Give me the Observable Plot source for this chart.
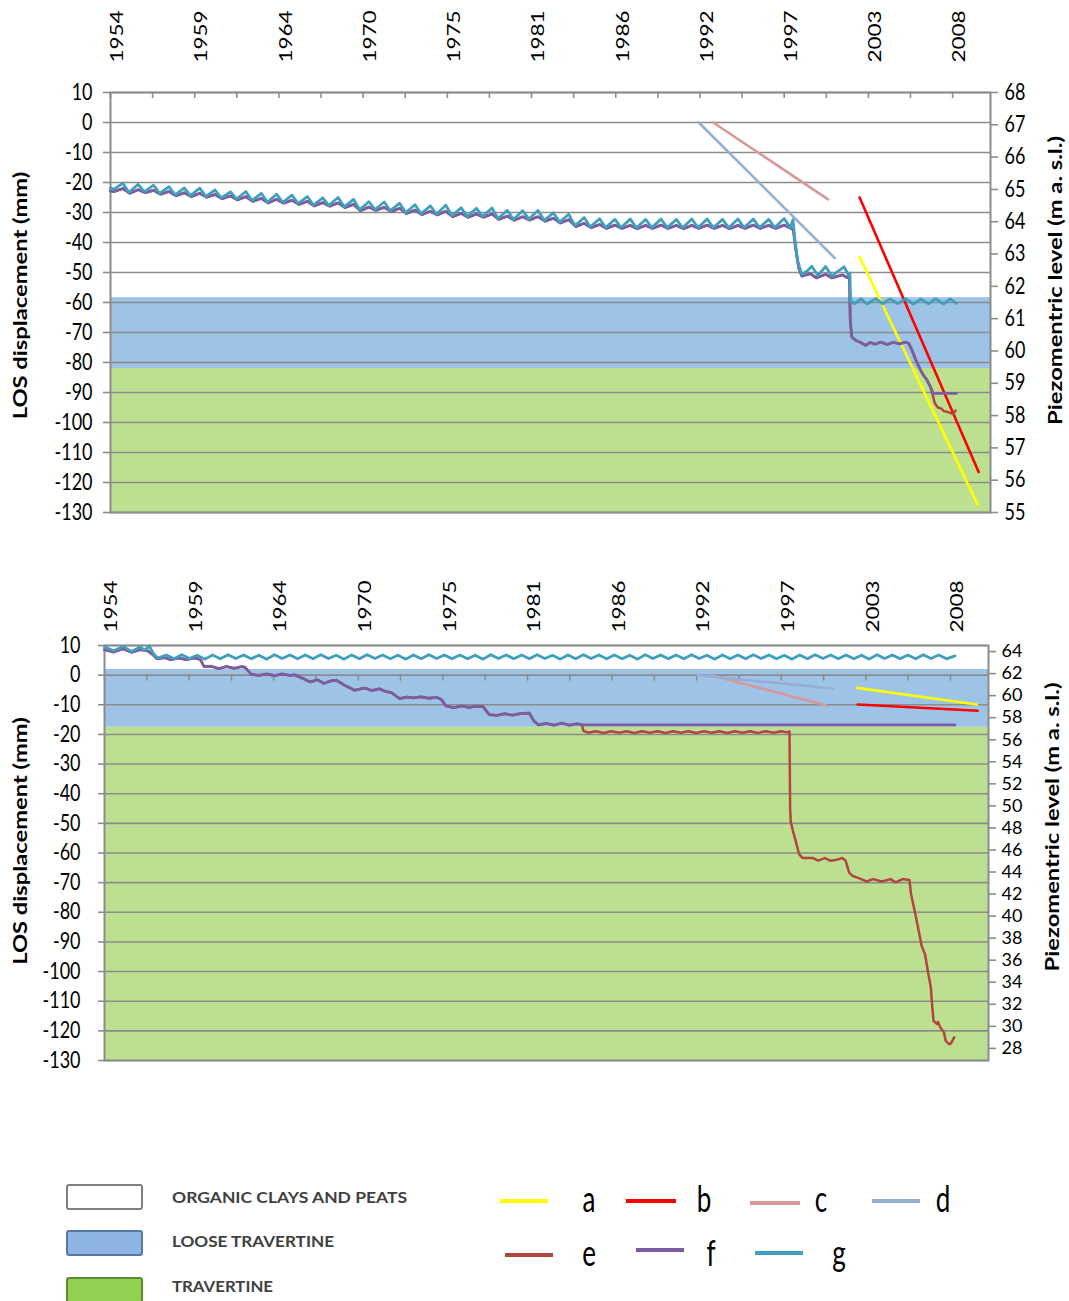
<!DOCTYPE html>
<html><head><meta charset="utf-8">
<script src="https://cdn.jsdelivr.net/npm/d3@7"></script>
<script src="https://cdn.jsdelivr.net/npm/@observablehq/plot@0.6"></script>
<style>
html,body{margin:0;padding:0;background:#fff;}
#wrap{position:relative;width:1069px;height:1301px;overflow:hidden;}
#wrap > svg{position:absolute;left:0;}
</style></head><body><div id="wrap"></div>
<script>
// ---------------- DATA ----------------
const X0 = 1954, X1 = 2011.22;             // time axis (decimal years)
const yearLabels = ["1954","1959","1964","1970","1975","1981","1986","1992","1997","2003","2008"];
const leftTicks = [10,0,-10,-20,-30,-40,-50,-60,-70,-80,-90,-100,-110,-120,-130];
const rightTicksTop = [55,56,57,58,59,60,61,62,63,64,65,66,67,68];
const rightTicksBot = [28,30,32,34,36,38,40,42,44,46,48,50,52,54,56,58,60,62,64];
const rightDomainTop = [55, 68];
const rightDomainBot = [26.9, 64.55];

// lithology bands (mm)
const bandsTop = [{layer:"loose", top:-58.4, bottom:-82}, {layer:"travertine", top:-82, bottom:-130}];
const bandsBot = [{layer:"loose", top:1.9, bottom:-17.6}, {layer:"travertine", top:-17.6, bottom:-130}];

// straight trend series a-d  [year, mm]
const aTop = [[2002.71,-44.8],[2010.38,-127.3]];
const bTop = [[2002.71,-25.0],[2010.45,-116.5]];
const cTop = [[1993.19,0],[2000.66,-25.6]];
const dTop = [[1992.25,0],[2001.10,-45.2]];
const aBot = [[2002.71,-4.3],[2010.46,-9.9]];
const bBot = [[2002.75,-9.9],[2010.52,-12.0]];
const cBot = [[1993.27,0],[2000.71,-10.2]];
const dBot = [[1992.38,0],[2001.15,-4.5]];

// ---- top chart, series g (annual trough / peak 1954..1997) ----
const gTopHead = [[1954.0,-21.7]];
const gTopTrough = [-22.3,-23.3,-23.1,-23.6,-24.1,-24.4,-24.6,-25.1,-25.5,-26.0,
  -26.5,-26.6,-27.0,-27.5,-27.6,-28.1,-29.1,-29.0,-29.4,-30.0,
  -30.4,-30.5,-31.1,-31.3,-31.3,-32.0,-32.3,-32.2,-32.6,-33.2,
  -34.4,-34.8,-35.0,-35.0,-35.1,-35.0,-35.0,-35.1,-35.0,-35.0,
  -35.1,-35.0,-35.0,-35.0];
const gTopPeak = [-20.3,-20.6,-20.9,-21.4,-21.8,-21.9,-22.5,-23.1,-23.0,-23.6,
  -23.9,-24.2,-24.7,-25.1,-25.0,-25.6,-26.4,-26.5,-26.9,-27.4,
  -27.8,-27.6,-28.4,-28.6,-28.5,-29.3,-29.4,-29.3,-30.1,-30.6,
  -31.7,-32.1,-32.3,-32.2,-32.3,-32.2,-32.3,-32.2,-32.2,-32.3,
  -32.2,-32.2,-32.3,-32.0];
const gTopTail = [[1998.2,-35.0],[1998.38,-32.4],[1998.5,-39],[1998.7,-46.5],[1998.95,-50.6],
  [1999.3,-49.5],[1999.6,-47.9],[2000.0,-51.0],[2000.5,-48.0],[2000.9,-51.2],[2001.3,-49.6],
  [2001.7,-48.1],[2002.0,-51.0],[2002.08,-50.2],[2002.12,-59.5],[2002.4,-60.4],[2002.8,-58.8],
  [2003.2,-60.5],[2003.75,-58.7],[2004.2,-60.4],[2004.7,-58.8],[2005.2,-60.4],[2005.7,-58.7],
  [2006.2,-60.5],[2006.7,-58.8],[2007.2,-60.4],[2007.65,-58.7],[2008.15,-60.5],[2008.6,-58.8],[2009.0,-60.3]];

// ---- top chart, series f ----
const fTopHead = [[1954.0,-22.8]];
const fTopLow = [-23.0,-23.6,-23.4,-23.9,-24.4,-24.7,-24.9,-25.4,-25.8,-26.3,
  -26.8,-26.9,-27.3,-27.8,-27.9,-28.4,-29.4,-29.3,-29.7,-30.3,
  -30.7,-30.8,-31.4,-31.6,-31.6,-32.3,-32.6,-32.5,-32.9,-33.5,
  -34.7,-35.1,-35.3,-35.3,-35.4,-35.3,-35.3,-35.4,-35.3,-35.3,
  -35.4,-35.3,-35.3,-35.3];
const fTopHigh = [-22.0,-22.4,-22.6,-23.0,-23.4,-23.6,-24.0,-24.5,-24.7,-25.3,
  -25.6,-25.9,-26.3,-26.7,-26.8,-27.3,-28.2,-28.3,-28.6,-29.2,
  -29.6,-29.6,-30.3,-30.5,-30.5,-31.2,-31.4,-31.4,-31.9,-32.4,
  -33.6,-34.0,-34.2,-34.3,-34.3,-34.2,-34.3,-34.3,-34.2,-34.3,
  -34.3,-34.2,-34.3,-34.2];
const fTopTail = [[1998.25,-35.3],[1998.4,-35.8],[1998.55,-42],[1998.75,-48.5],[1998.95,-51.2],
  [1999.5,-50.4],[1999.9,-51.8],[2000.5,-50.6],[2000.9,-51.8],[2001.6,-50.8],[2001.9,-51.7],
  [2002.05,-51.2],[2002.1,-66],[2002.2,-71.5],[2002.45,-72.6],[2002.8,-73.4],[2003.1,-74.3],
  [2003.4,-73.3],[2003.7,-73.9],[2004.1,-73.2],[2004.5,-74.0],[2004.9,-73.3],[2005.3,-73.8],
  [2005.7,-73.2],[2005.9,-73.6],[2006.1,-75.7],[2006.35,-79],[2006.6,-81.8],[2006.85,-84.2],
  [2007.05,-85.5],[2007.3,-88],[2007.5,-90.3],[2009.0,-90.3]];
// ---- top chart, series e (diverges from f at the end) ----
const eTopTail = [[2007.3,-88],[2007.45,-90.5],[2007.6,-93.6],[2007.8,-95.0],[2008.0,-95.3],
  [2008.2,-96.2],[2008.5,-96.6],[2008.8,-97.2],[2008.95,-96.0]];

// ---- bottom chart, series g ----
const gBotHead = [[1954.0,9.6],[1954.6,8.2],[1955.2,9.7],[1955.75,8.0],[1956.3,9.5],[1956.6,8.4],
  [1956.9,9.8],[1957.2,7.0],[1957.45,5.8]];
const gBotPeak = [6.8,6.9,6.7,6.8,6.9,6.8,6.7,6.9,6.8,6.8, 6.9,6.7,6.8,6.9,6.8,6.7,6.8,6.9,6.8,6.8,
  6.7,6.9,6.8,6.8,6.9,6.7,6.8,6.9,6.8,6.8, 6.7,6.9,6.8,6.8,6.9,6.7,6.8,6.8,6.9,6.8,
  6.7,6.8,6.9,6.8,6.8,6.7,6.9,6.8,6.8,6.9, 6.8];
const gBotTrough = [5.5,5.6,5.4,5.5,5.6,5.5,5.4,5.6,5.5,5.5, 5.6,5.4,5.5,5.6,5.5,5.4,5.5,5.6,5.5,5.5,
  5.4,5.6,5.5,5.5,5.6,5.4,5.5,5.6,5.5,5.5, 5.4,5.6,5.5,5.5,5.6,5.4,5.5,5.5,5.6,5.5,
  5.4,5.5,5.6,5.5,5.5,5.4,5.6,5.5,5.5,5.6, 5.5];
const gBotEnd = [[2009.05,6.5]];

// ---- bottom chart, series f ----
const fBot = [[1954.0,8.6],[1954.6,7.8],[1955.2,8.9],[1955.75,7.7],[1956.3,8.6],[1956.8,8.2],[1957.15,6.8],
  [1957.4,5.5],[1957.9,5.9],[1958.3,5.2],[1958.8,5.8],[1959.3,5.2],[1959.8,5.8],[1960.2,5.3],[1960.45,2.9],
  [1960.9,3.0],[1961.4,2.2],[1961.9,2.9],[1962.4,2.3],[1962.9,2.9],[1963.1,2.6],[1963.5,0.3],[1964.0,-0.1],
  [1964.5,0.4],[1965.0,-0.2],[1965.5,0.4],[1966.0,-0.1],[1966.3,0.1],[1966.8,-1.0],[1967.3,-2.3],[1967.8,-1.6],
  [1968.2,-2.8],[1968.6,-2.0],[1969.0,-1.7],[1969.5,-3.3],[1970.2,-5.1],[1970.6,-4.6],[1970.9,-4.4],[1971.3,-5.2],
  [1971.8,-4.6],[1972.1,-5.3],[1972.6,-6.0],[1973.1,-7.9],[1973.6,-7.4],[1974.0,-7.7],[1974.5,-7.3],[1975.0,-7.8],
  [1975.5,-7.5],[1975.8,-8.2],[1976.1,-10.4],[1976.6,-11.0],[1977.1,-10.4],[1977.6,-10.9],[1978.0,-10.5],
  [1978.5,-10.6],[1978.9,-13.3],[1979.4,-13.6],[1979.9,-13.0],[1980.4,-13.5],[1980.9,-13.0],[1981.5,-12.8],
  [1981.8,-15.5],[1982.1,-16.8],[1982.6,-16.3],[1983.1,-16.9],[1983.6,-16.2],[1984.1,-16.9],[1984.6,-16.4],
  [1984.9,-16.8],[2009.05,-16.8]];
// ---- bottom chart, series e (diverges from f in 1985) ----
const eBotTail = [[1984.9,-16.8],[1985.0,-18.8],[1985.3,-19.4],[1985.8,-18.9],[1986.3,-19.5],[1986.8,-18.9],
  [1987.3,-19.4],[1987.8,-18.9],[1988.3,-19.5],[1988.8,-18.9],[1989.3,-19.4],[1989.8,-18.9],[1990.3,-19.5],
  [1990.8,-18.9],[1991.3,-19.4],[1991.8,-18.9],[1992.3,-19.5],[1992.8,-18.9],[1993.3,-19.4],[1993.8,-18.9],
  [1994.3,-19.5],[1994.8,-18.9],[1995.3,-19.4],[1995.8,-18.9],[1996.3,-19.5],[1996.8,-18.9],[1997.3,-19.4],
  [1997.8,-18.9],[1998.2,-19.3],[1998.34,-19.0],[1998.38,-45],[1998.42,-49.5],[1998.56,-52.5],[1998.74,-55.9],
  [1998.96,-60.4],[1999.18,-61.7],[1999.86,-61.7],[2000.19,-62.6],[2000.63,-61.7],[2000.97,-62.6],[2001.31,-62.4],
  [2001.75,-61.7],[2001.97,-62.6],[2002.2,-66.6],[2002.42,-67.7],[2002.98,-68.8],[2003.31,-69.6],[2003.76,-68.8],
  [2004.32,-69.6],[2004.87,-68.8],[2005.21,-69.9],[2005.66,-68.8],[2006.1,-69.1],[2006.21,-73.9],[2006.44,-79.5],
  [2006.66,-85.1],[2006.89,-91.3],[2007.11,-94.1],[2007.33,-100.9],[2007.49,-105.4],[2007.55,-109.9],
  [2007.66,-116.6],[2007.89,-117.7],[2007.95,-117.0],[2008.11,-118.9],[2008.34,-120.6],[2008.45,-123.4],
  [2008.67,-124.5],[2008.78,-124.3],[2009.0,-122.2]];

const legendLayers = ["ORGANIC CLAYS AND PEATS","LOOSE TRAVERTINE","TRAVERTINE"];
const legendSeries = ["a","b","c","d","e","f","g"];

// ---------------- STYLE ----------------
const colors = {a:"#ffff00", b:"#ff0000", c:"#d9989a", d:"#94aed6", e:"#b2463f", f:"#7b5ea0", g:"#409fbd"};
const widths = {a:2.6, b:2.6, c:2.6, d:2.6, e:2.5, f:2.8, g:2.8};
const bandFill = {loose:"#9dc3e6", travertine:"#bde090"};
const GRID = "#8c8c8c";
const FONT = "Lato, 'Open Sans', sans-serif";

// ---------------- HELPERS ----------------
const xTicks = d3.range(21).map(k => X0 + k * 1000 / 365.25);
const yearTicks = yearLabels.map((label, i) => ({label, t: xTicks[2 * i]}));
function osc(y0, lows, highs, lowOff, highOff) {
  const pts = [];
  lows.forEach((v, i) => pts.push([y0 + i + lowOff, v]));
  highs.forEach((v, i) => pts.push([y0 + i + highOff, v]));
  return pts.sort((p, q) => p[0] - q[0]);
}
const gTop = [...gTopHead, ...osc(1954, gTopTrough, gTopPeak, 0.2, 0.8), ...gTopTail];
const fTop = [...fTopHead, ...osc(1954, fTopLow, fTopHigh, 0.25, 0.8), ...fTopTail];
const eTop = [...fTop.filter(p => p[0] < 2007.3), ...eTopTail];
const gBot = [...gBotHead, ...osc(1958, gBotTrough, gBotPeak, 0.5, 0.0), ...gBotEnd];
const eBot = [...fBot.filter(p => p[0] < 1984.9), ...eBotTail];

// stretch text glyphs vertically (on screen), as in the reference picture
function stretch(root, k, skipRightOf) {
  root.querySelectorAll("text").forEach(t => {
    let tr = t.getAttribute("transform") || "";
    const m = /rotate\((-?[\d.]+)\)/.exec(tr);
    const vertical = m && Math.abs(Math.abs(+m[1]) - 90) < 1;
    if (!vertical && skipRightOf != null && t.getBoundingClientRect().left > skipRightOf) return;
    let tx = 0, ty = 0;
    const xa = t.getAttribute("x"), ya = t.getAttribute("y");
    if (xa != null && /^-?[\d.]+$/.test(xa.trim())) { tx = +xa; t.removeAttribute("x"); }
    if (ya != null && /^-?[\d.]+$/.test(ya.trim())) { ty = +ya; t.removeAttribute("y"); }
    if (tx || ty) tr += ` translate(${tx},${ty})`;
    tr += vertical ? ` scale(${k},1)` : ` scale(1,${k})`;
    t.setAttribute("transform", tr.trim());
  });
}

function chart(cfg) {
  const toLeft = m => -130 + (m - cfg.rightDomain[0]) * 140 / (cfg.rightDomain[1] - cfg.rightDomain[0]);
  const fromLeft = v => cfg.rightDomain[0] + (v + 130) * (cfg.rightDomain[1] - cfg.rightDomain[0]) / 140;
  const line = (pts, key) => Plot.line(pts, {x: d => d[0], y: d => d[1], stroke: colors[key], strokeWidth: widths[key], strokeLinejoin: "round"});
  return Plot.plot({
    width: 1069, height: cfg.height,
    marginTop: cfg.mt, marginBottom: cfg.mb, marginLeft: cfg.ml, marginRight: cfg.mr,
    x: {domain: [X0, X1], axis: null},
    y: {domain: [-130, 10]},
    style: {fontFamily: FONT, fontSize: "18px", color: "#000", background: "transparent", overflow: "visible"},
    marks: [
      Plot.rect(cfg.bands, {x1: X0, x2: X1, y1: "top", y2: "bottom", fill: d => bandFill[d.layer]}),
      Plot.ruleY(leftTicks, {stroke: GRID, strokeWidth: 1.6}),
      Plot.frame({stroke: GRID, strokeWidth: 2}),
      Plot.ruleX(xTicks, {y1: cfg.tickY, y2: cfg.tickY - 2, stroke: GRID, strokeWidth: 1.6}),
      line(cfg.series.a, "a"), line(cfg.series.b, "b"), line(cfg.series.c, "c"), line(cfg.series.d, "d"),
      line(cfg.series.e, "e"), line(cfg.series.f, "f"), line(cfg.series.g, "g"),
      Plot.axisY(leftTicks, {anchor: "left", label: null, tickSize: cfg.lts, tickPadding: cfg.ltp,
        tickFormat: d => String(d), stroke: GRID, strokeWidth: 1.6, fontSize: 18}),
      Plot.axisY(cfg.rightTicks.map(toLeft), {anchor: "right", label: null, tickSize: 7, tickPadding: cfg.rtp,
        tickFormat: d => String(Math.round(fromLeft(d))), stroke: GRID, strokeWidth: 1.6, fontSize: cfg.rfs}),
      Plot.text(yearTicks, {x: "t", text: "label", frameAnchor: "top", dy: cfg.yearDy, rotate: -90,
        textAnchor: "start", fontSize: 18}),
      Plot.text(["LOS displacement (mm)"], {text: d => d, frameAnchor: "left", dx: cfg.ltDx, dy: cfg.ltDy,
        rotate: -90, textAnchor: "middle", fontWeight: "bold", fontSize: 19}),
      Plot.text(["Piezomentric level (m a. s.l.)"], {text: d => d, frameAnchor: "right", dx: cfg.rtDx, dy: cfg.rtDy,
        rotate: -90, textAnchor: "middle", fontWeight: "bold", fontSize: 19})
    ]
  });
}

const wrap = document.getElementById("wrap");
const top1 = chart({
  height: 540, mt: 92, mb: 28, ml: 110, mr: 79, bands: bandsTop, tickY: 10,
  rightDomain: rightDomainTop, rightTicks: rightTicksTop, lts: 7, ltp: 11, rtp: 7, rfs: 18,
  yearDy: -30, ltDx: -90, ltDy: -7, rtDx: 65, rtDy: -22,
  series: {a: aTop, b: bTop, c: cTop, d: dTop, e: eTop, f: fTop, g: gTop}
});
top1.style.top = "0px";
wrap.appendChild(top1);
stretch(top1, 1.25, null);

const bot1 = chart({
  height: 540, mt: 105, mb: 20, ml: 104, mr: 81, bands: bandsBot, tickY: 0,
  rightDomain: rightDomainBot, rightTicks: rightTicksBot, lts: 6, ltp: 18, rtp: 6, rfs: 18,
  yearDy: -13, ltDx: -84, ltDy: -12, rtDx: 64, rtDy: -26,
  series: {a: aBot, b: bBot, c: cBot, d: dBot, e: eBot, f: fBot, g: gBot}
});
bot1.style.top = "540px";
wrap.appendChild(bot1);
stretch(bot1, 1.25, 990);

// ---------------- LEGEND ----------------
const lg = d3.select(wrap).append("svg").attr("width", 1069).attr("height", 151).style("top", "1150px");
const boxStyle = [
  {fill: "#ffffff", stroke: "#7f7f7f"},
  {fill: "#8db4e2", stroke: "#5677a6"},
  {fill: "#92d050", stroke: "#5f8a33"}
];
const boxY = [35, 81, 128], textBase = [53, 97, 142], textLen = [235, 162, 101];
legendLayers.forEach((name, i) => {
  lg.append("rect").attr("x", 67).attr("y", boxY[i]).attr("width", 75).attr("height", 24).attr("rx", 2)
    .attr("fill", boxStyle[i].fill).attr("stroke", boxStyle[i].stroke).attr("stroke-width", 2);
  lg.append("text").attr("x", 172).attr("y", textBase[i]).text(name)
    .attr("font-family", FONT).attr("font-weight", "bold").attr("font-size", 16).attr("fill", "#404040")
    .attr("textLength", textLen[i]).attr("lengthAdjust", "spacingAndGlyphs");
});
const legPos = {
  a: {x1: 500, x2: 548, y: 51, lx: 589, ly: 62}, b: {x1: 626, x2: 676, y: 51, lx: 704, ly: 62},
  c: {x1: 750, x2: 800, y: 53, lx: 821, ly: 62}, d: {x1: 872, x2: 920, y: 51, lx: 943, ly: 62},
  e: {x1: 505, x2: 553, y: 105, lx: 589, ly: 116}, f: {x1: 636, x2: 684, y: 100, lx: 711, ly: 116},
  g: {x1: 755, x2: 803, y: 103, lx: 839, ly: 116}
};
legendSeries.forEach(k => {
  const p = legPos[k];
  lg.append("line").attr("x1", p.x1).attr("x2", p.x2).attr("y1", p.y).attr("y2", p.y)
    .attr("stroke", colors[k]).attr("stroke-width", 4);
  lg.append("text").attr("transform", `translate(${p.lx},${p.ly}) scale(1,1.4)`).attr("text-anchor", "middle")
    .attr("font-family", FONT).attr("font-size", 26).attr("fill", "#000").text(k);
});
</script></body></html>
